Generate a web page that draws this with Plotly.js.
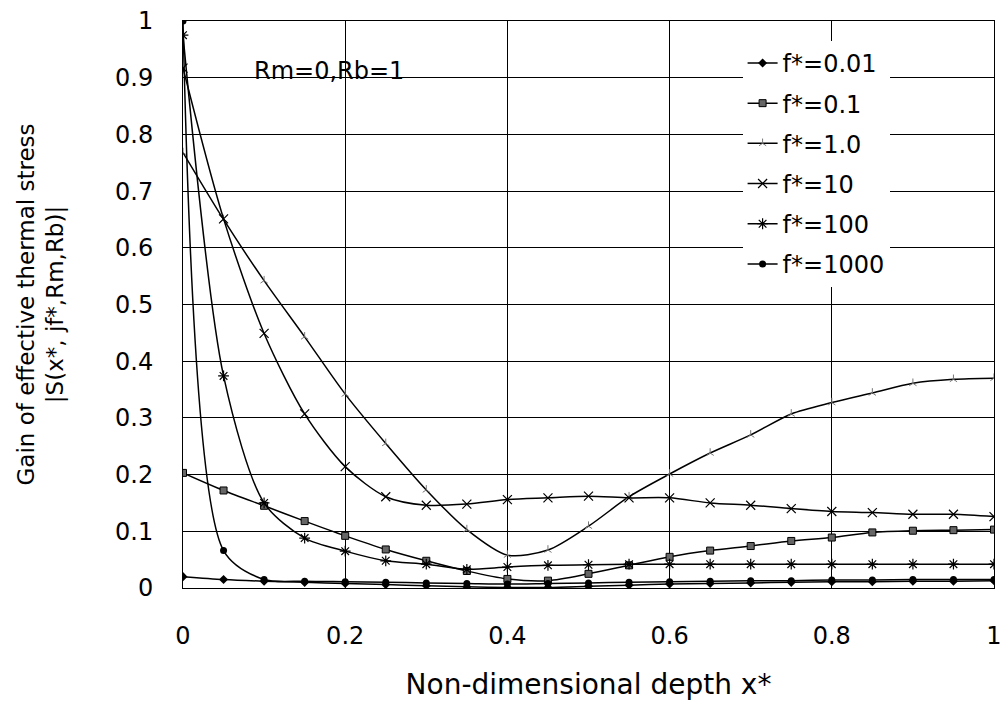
<!DOCTYPE html>
<html>
<head>
<meta charset="utf-8">
<script src="https://cdn.plot.ly/plotly-3.0.1.min.js"></script>
<style>html,body{margin:0;padding:0;background:#fff;}#chart{width:1003px;height:701px;}</style>
</head>
<body>
<div id="chart"></div>
<script>
const xDepth = [0, 0.05, 0.1, 0.15, 0.2, 0.25, 0.3, 0.35, 0.4, 0.45, 0.5, 0.55, 0.6, 0.65, 0.7, 0.75, 0.8, 0.85, 0.9, 0.95, 1.0];
const f001  = [0.020, 0.015, 0.012, 0.010, 0.008, 0.006, 0.004, 0.002, 0.001, 0.001, 0.003, 0.005, 0.007, 0.008, 0.009, 0.010, 0.011, 0.011, 0.012, 0.012, 0.013];
const f01   = [0.203, 0.172, 0.145, 0.118, 0.092, 0.068, 0.048, 0.030, 0.016, 0.013, 0.025, 0.040, 0.055, 0.066, 0.074, 0.083, 0.089, 0.098, 0.101, 0.102, 0.103];
const f1    = [0.768, 0.650, 0.542, 0.443, 0.342, 0.255, 0.173, 0.103, 0.058, 0.067, 0.109, 0.161, 0.201, 0.238, 0.270, 0.307, 0.327, 0.344, 0.361, 0.368, 0.370];
const f10   = [0.917, 0.651, 0.449, 0.307, 0.214, 0.161, 0.146, 0.148, 0.156, 0.159, 0.162, 0.159, 0.159, 0.150, 0.146, 0.140, 0.135, 0.133, 0.130, 0.130, 0.126];
const f100  = [0.975, 0.374, 0.150, 0.088, 0.065, 0.048, 0.042, 0.033, 0.037, 0.040, 0.041, 0.042, 0.042, 0.042, 0.042, 0.042, 0.042, 0.042, 0.042, 0.042, 0.042];
const f1000 = [1.000, 0.066, 0.015, 0.012, 0.011, 0.010, 0.009, 0.008, 0.007, 0.008, 0.009, 0.010, 0.011, 0.012, 0.013, 0.013, 0.014, 0.014, 0.015, 0.015, 0.015];
const seriesNames = ["f*=0.01", "f*=0.1", "f*=1.0", "f*=10", "f*=100", "f*=1000"];
const xTickVals = [0, 0.2, 0.4, 0.6, 0.8, 1];
const xTickText = ["0", "0.2", "0.4", "0.6", "0.8", "1"];
const yTickVals = [0, 0.1, 0.2, 0.3, 0.4, 0.5, 0.6, 0.7, 0.8, 0.9, 1];
const yTickText = ["0", "0.1", "0.2", "0.3", "0.4", "0.5", "0.6", "0.7", "0.8", "0.9", "1"];

const seriesData = [f001, f01, f1, f10, f100, f1000];
const markerStyles = [
  {symbol: "diamond", size: 7, color: "#000", line: {width: 0}},
  {symbol: "square", size: 7, color: "#666", line: {width: 1, color: "#000"}},
  {symbol: "y-up-open", size: 6, color: "#777", line: {width: 1, color: "#777"}},
  {symbol: "x-thin-open", size: 9, color: "#000", line: {width: 1.2, color: "#000"}},
  {symbol: "asterisk-open", size: 9, color: "#000", line: {width: 1.2, color: "#000"}},
  {symbol: "circle", size: 7, color: "#000", line: {width: 0}}
];
const traces = seriesData.map((ys, i) => ({
  x: xDepth, y: ys, name: seriesNames[i], type: "scatter", mode: "lines+markers",
  line: {color: "#000", width: 1.5, shape: "spline", smoothing: 0.8},
  marker: markerStyles[i], legendgroup: "g" + i
}));

const fontMain = "'DejaVu Sans', Arial, sans-serif";
const layout = {
  width: 1003, height: 701,
  margin: {l: 183, r: 9, t: 21, b: 113},
  paper_bgcolor: "#fff", plot_bgcolor: "#fff",
  showlegend: true,
  legend: {x: 0.69, y: 0.965, xanchor: "left", yanchor: "top", bgcolor: "#fff", borderwidth: 0,
           font: {family: fontMain, size: 24, color: "#000"}, tracegroupgap: 6},
  xaxis: {range: [0, 1], tickvals: xTickVals, ticktext: xTickText, showgrid: true, gridcolor: "#000", gridwidth: 1,
          zeroline: false, showline: true, linecolor: "#000", linewidth: 1, mirror: true,
          ticks: "outside", ticklen: 26, tickcolor: "rgba(0,0,0,0)",
          tickfont: {family: fontMain, size: 24, color: "#000"},
          title: {text: "Non-dimensional depth x*", font: {family: fontMain, size: 28, color: "#000"}, standoff: 28}},
  yaxis: {range: [0, 1], tickvals: yTickVals, ticktext: yTickText, showgrid: true, gridcolor: "#000", gridwidth: 1,
          zeroline: false, showline: true, linecolor: "#000", linewidth: 1, mirror: true,
          ticks: "outside", ticklen: 24, tickcolor: "rgba(0,0,0,0)",
          tickfont: {family: fontMain, size: 24, color: "#000"},
          title: {text: "Gain of effective thermal stress<br>|S(x*, jf*,Rm,Rb)|", font: {family: fontMain, size: 23, color: "#000"}, standoff: 44}},
  annotations: [{x: 0.18, y: 0.912, xref: "x", yref: "y", text: "Rm=0,Rb=1", showarrow: false,
                 font: {family: fontMain, size: 24, color: "#000"}}]
};
Plotly.newPlot("chart", traces, layout, {displayModeBar: false, staticPlot: true});
</script>
</body>
</html>
